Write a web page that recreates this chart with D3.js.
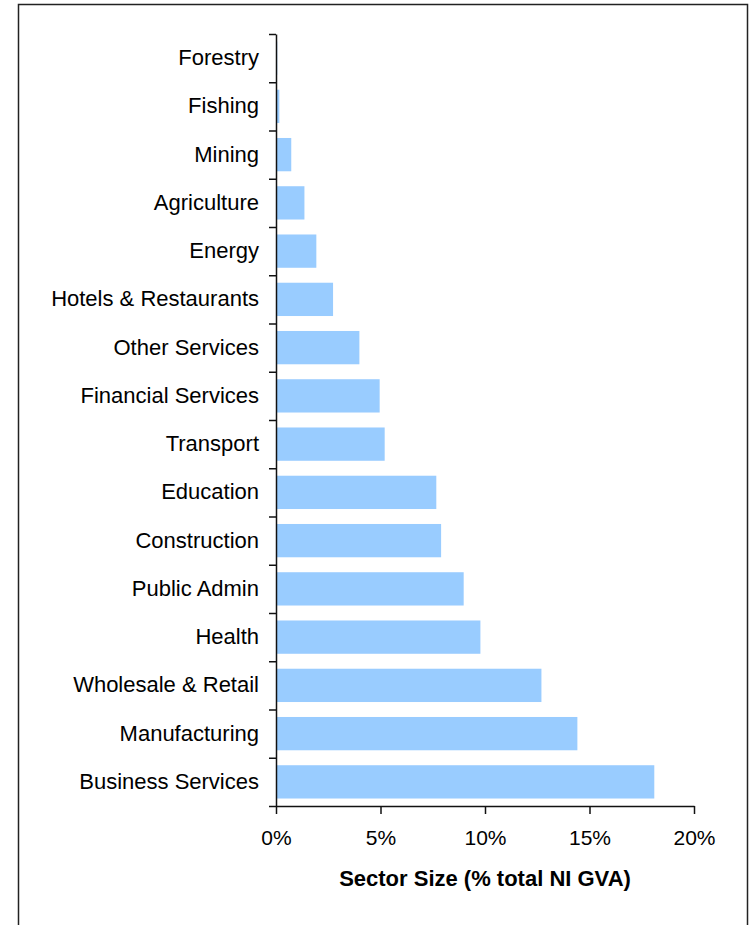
<!DOCTYPE html>
<html>
<head>
<meta charset="utf-8">
<script src="https://cdn.jsdelivr.net/npm/d3@7"></script>
<style>
  html, body { margin: 0; padding: 0; background: #fff; }
  svg { display: block; }
  text { font-family: "Liberation Sans", Arial, sans-serif; fill: #000; }
</style>
</head>
<body>
<svg id="chart" width="752" height="925"></svg>
<script>
// Sector size as share of total NI GVA (%), top to bottom
const sectors = [
  "Forestry", "Fishing", "Mining", "Agriculture", "Energy",
  "Hotels & Restaurants", "Other Services", "Financial Services",
  "Transport", "Education", "Construction", "Public Admin",
  "Health", "Wholesale & Retail", "Manufacturing", "Business Services"
];
const shares = [
  0.06, 0.16, 0.73, 1.36, 1.93,
  2.73, 3.99, 4.96,
  5.2, 7.67, 7.9, 8.98,
  9.78, 12.7, 14.42, 18.1
];
const xTicks = [0, 5, 10, 15, 20];
const xTitle = "Sector Size (% total NI GVA)";

const svg = d3.select("#chart");
const plotLeft = 276, plotRight = 694, plotTop = 34, plotBottom = 806;

// outer frame
svg.append("rect")
  .attr("x", 18.5).attr("y", 4.5)
  .attr("width", 729).attr("height", 940)
  .attr("fill", "none").attr("stroke", "#222").attr("stroke-width", 1.5);

const x = d3.scaleLinear().domain([0, 20]).range([plotLeft, plotRight]);
const y = d3.scaleBand().domain(sectors).range([plotTop, plotBottom])
  .paddingInner(0.31).paddingOuter(0.155);
// boundaries between categories carry the ticks
const yEdge = d3.scaleLinear().domain([0, sectors.length]).range([plotTop, plotBottom]);

// bars
svg.append("g").selectAll("rect")
  .data(sectors)
  .join("rect")
  .attr("x", x(0))
  .attr("y", d => y(d))
  .attr("width", (d, i) => x(shares[i]) - x(0))
  .attr("height", y.bandwidth())
  .attr("fill", "#99ccff");

// y axis: ticks at category edges
const yAxisTicks = svg.append("g")
  .attr("transform", `translate(${plotLeft},0)`)
  .call(d3.axisLeft(yEdge).tickValues(d3.range(sectors.length + 1))
    .tickSize(7).tickSizeOuter(0).tickFormat(""));
yAxisTicks.selectAll("path, line").attr("stroke", "#111").attr("stroke-width", 1.5);

// y axis: category labels centred in each band
const yLabels = svg.append("g")
  .attr("transform", `translate(${plotLeft},0)`)
  .call(d3.axisLeft(y).tickSize(0).tickPadding(17));
yLabels.select(".domain").remove();
yLabels.selectAll("text")
  .style("font-size", "22px")
  .style("font-family", "'Liberation Sans', Arial, sans-serif");

// x axis
const xAxis = svg.append("g")
  .attr("transform", `translate(0,${plotBottom})`)
  .call(d3.axisBottom(x).tickValues(xTicks).tickSize(8).tickSizeOuter(0)
    .tickPadding(16).tickFormat(d => d + "%"));
xAxis.selectAll("path, line").attr("stroke", "#111").attr("stroke-width", 1.5);
xAxis.selectAll("text")
  .style("font-size", "21px")
  .style("font-family", "'Liberation Sans', Arial, sans-serif");

// x axis title
svg.append("text")
  .attr("x", (plotLeft + plotRight) / 2)
  .attr("y", 886)
  .attr("text-anchor", "middle")
  .style("font-size", "22px")
  .style("font-weight", "bold")
  .text(xTitle);
</script>
</body>
</html>
